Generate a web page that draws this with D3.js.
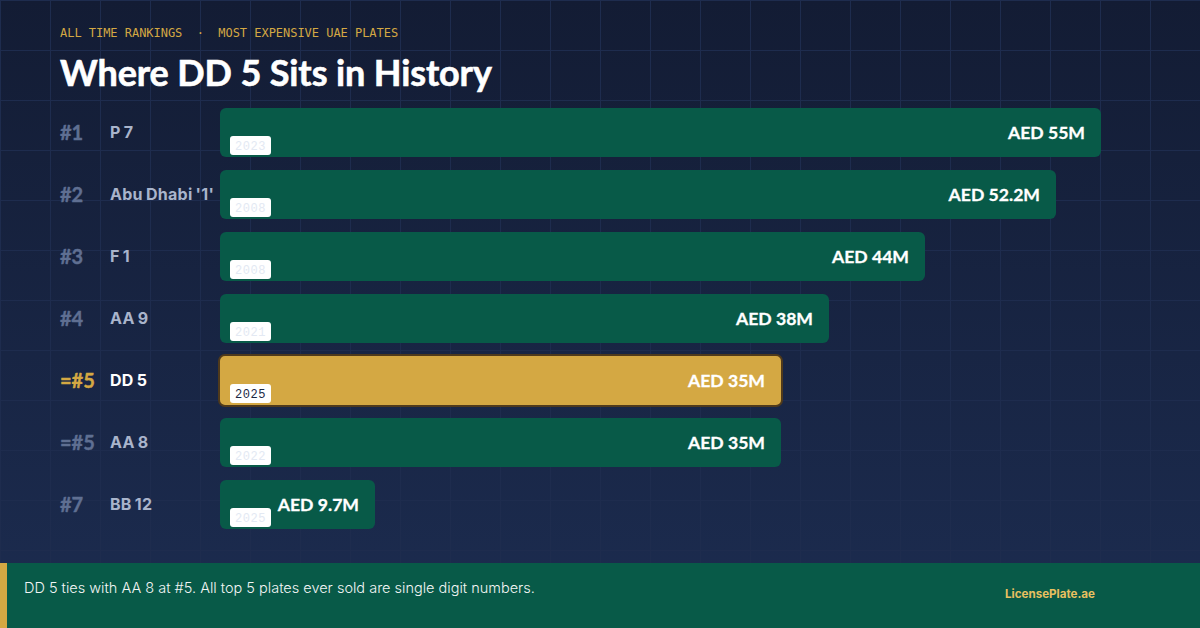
<!DOCTYPE html>
<html lang="en">
  <head>
    <meta charset="utf-8">
    <title>Where DD 5 Sits in History</title>
    <script src="https://cdn.jsdelivr.net/npm/d3@7"></script>
    <style>
      html, body { margin: 0; padding: 0; background: #141d35; overflow: hidden; }
      svg { display: block; }
    </style>
  </head>
  <body>
    <script>
      // chart data
      var ranks = ["#1", "#2", "#3", "#4", "=#5", "=#5", "#7"];
      var plates = ["P 7", "Abu Dhabi '1'", "F 1", "AA 9", "DD 5", "AA 8", "BB 12"];
      var values = [55, 52.2, 44, 38, 35, 35, 9.7];
      var valueLabels = ["AED 55M", "AED 52.2M", "AED 44M", "AED 38M", "AED 35M", "AED 35M", "AED 9.7M"];
      var years = ["2023", "2008", "2008", "2021", "2025", "2022", "2025"];
      var highlightRow = 4;  // DD 5

      var w = 1200;
      var h = 628;
      var gold = "#d4a843";
      var green = "#085a48";

      var rows = d3.range(plates.length);

      var xScale = d3.scaleLinear().domain([0, 55]).rangeRound([220, 1101]);
      var yScale = d3.scaleBand().domain(rows).range([108, 108 + 62 * 7 - 13]).paddingInner(13 / 62);

      var svg = d3.select("body").append("svg")
        .attr("width", w)
        .attr("height", h);

      var grad = svg.append("defs").append("linearGradient")
        .attr("id", "bg")
        .attr("x1", 0).attr("y1", 0).attr("x2", 0).attr("y2", 1);
      grad.append("stop").attr("offset", "0%").attr("stop-color", "#131c34");
      grad.append("stop").attr("offset", "100%").attr("stop-color", "#1c2c50");

      svg.append("rect").attr("width", w).attr("height", h).attr("fill", "url(#bg)");

      // background grid, every 50px
      var grid = svg.append("g").attr("stroke", "#1e2c4e").attr("stroke-width", 1);
      grid.selectAll("line.v").data(d3.range(0, w, 50)).enter().append("line")
        .attr("class", "v")
        .attr("x1", function(d) { return d + 0.5; })
        .attr("x2", function(d) { return d + 0.5; })
        .attr("y1", 0).attr("y2", h);
      grid.selectAll("line.h").data(d3.range(0, h, 50)).enter().append("line")
        .attr("class", "h")
        .attr("y1", function(d) { return d + 0.5; })
        .attr("y2", function(d) { return d + 0.5; })
        .attr("x1", 0).attr("x2", w);

      // header
      svg.append("text")
        .attr("x", 60).attr("y", 37)
        .attr("fill", gold)
        .attr("font-family", "'DejaVu Sans Mono', monospace")
        .attr("font-size", 12)
        .attr("letter-spacing", -0.03)
        .style("white-space", "pre")
        .text("ALL TIME RANKINGS  ·  MOST EXPENSIVE UAE PLATES");

      svg.append("text")
        .attr("x", 60).attr("y", 86)
        .attr("fill", "#ffffff")
        .attr("stroke", "#ffffff")
        .attr("stroke-width", 0.6)
        .attr("font-family", "Lato, sans-serif")
        .attr("font-weight", 700)
        .attr("font-size", 36)
        .attr("letter-spacing", -0.12)
        .text("Where DD 5 Sits in History");

      // rows
      var row = svg.selectAll("g.row").data(rows).enter().append("g")
        .attr("class", "row");

      function isHi(i) { return i === highlightRow; }

      row.append("text")
        .attr("x", 60)
        .attr("y", function(i) { return yScale(i) + 32; })
        .attr("fill", function(i) { return isHi(i) ? gold : "#5f6f92"; })
        .attr("stroke", function(i) { return isHi(i) ? gold : "#5f6f92"; })
        .attr("stroke-width", 0.4)
        .attr("font-family", "Lato, sans-serif")
        .attr("font-weight", 700)
        .attr("font-size", 20)
        .text(function(i) { return ranks[i]; });

      row.append("text")
        .attr("x", 110)
        .attr("y", function(i) { return yScale(i) + 30; })
        .attr("fill", function(i) { return isHi(i) ? "#ffffff" : "#a9b4cb"; })
        .attr("font-family", "Inter, sans-serif")
        .attr("font-weight", 700)
        .attr("font-size", 16)
        .attr("letter-spacing", 0.28)
        .attr("word-spacing", -1)
        .text(function(i) { return plates[i]; });

      row.append("rect")
        .attr("x", function(i) { return xScale(0) - (isHi(i) ? 1 : 0); })
        .attr("y", function(i) { return yScale(i) - (isHi(i) ? 1 : 0); })
        .attr("width", function(i) { return xScale(values[i]) - xScale(0) + (isHi(i) ? 2 : 0); })
        .attr("height", function(i) { return yScale.bandwidth() + (isHi(i) ? 2 : 0); })
        .attr("rx", 6)
        .attr("fill", function(i) { return isHi(i) ? gold : green; })
        .attr("stroke", function(i) { return isHi(i) ? "#4f3a1c" : "none"; })
        .attr("stroke-width", 2);

      row.append("text")
        .attr("x", function(i) { return xScale(values[i]) - 16; })
        .attr("y", function(i) { return yScale(i) + 31; })
        .attr("text-anchor", "end")
        .attr("fill", "#ffffff")
        .attr("stroke", "#ffffff")
        .attr("stroke-width", 0.3)
        .attr("font-family", "Lato, sans-serif")
        .attr("font-weight", 700)
        .attr("font-size", 17.6)
        .text(function(i) { return valueLabels[i]; });

      // year badges
      row.append("rect")
        .attr("x", 230)
        .attr("y", function(i) { return yScale(i) + 28; })
        .attr("width", 41)
        .attr("height", 19)
        .attr("rx", 3)
        .attr("fill", "#ffffff");

      row.append("text")
        .attr("x", 250.5)
        .attr("y", function(i) { return yScale(i) + 42; })
        .attr("text-anchor", "middle")
        .attr("fill", function(i) { return isHi(i) ? "#1a2744" : "#e3e9f3"; })
        .attr("font-family", "'Liberation Mono', monospace")
        .attr("font-size", 12)
        .attr("letter-spacing", 0.5)
        .text(function(i) { return years[i]; });

      // footer
      svg.append("rect").attr("x", 0).attr("y", 563).attr("width", w).attr("height", 65).attr("fill", green);
      svg.append("rect").attr("x", 0).attr("y", 563).attr("width", 7).attr("height", 65).attr("fill", gold);

      svg.append("text")
        .attr("x", 24).attr("y", 593)
        .attr("fill", "#f2f5f4")
        .attr("font-family", "Inter, sans-serif")
        .attr("font-weight", 300)
        .attr("font-size", 14.5)
        .text("DD 5 ties with AA 8 at #5. All top 5 plates ever sold are single digit numbers.");

      svg.append("text")
        .attr("x", 1005).attr("y", 598)
        .attr("fill", "#e8c060")
        .attr("font-family", "Inter, sans-serif")
        .attr("font-weight", 700)
        .attr("font-size", 11.6)
        .text("LicensePlate.ae");
    </script>
  </body>
</html>
